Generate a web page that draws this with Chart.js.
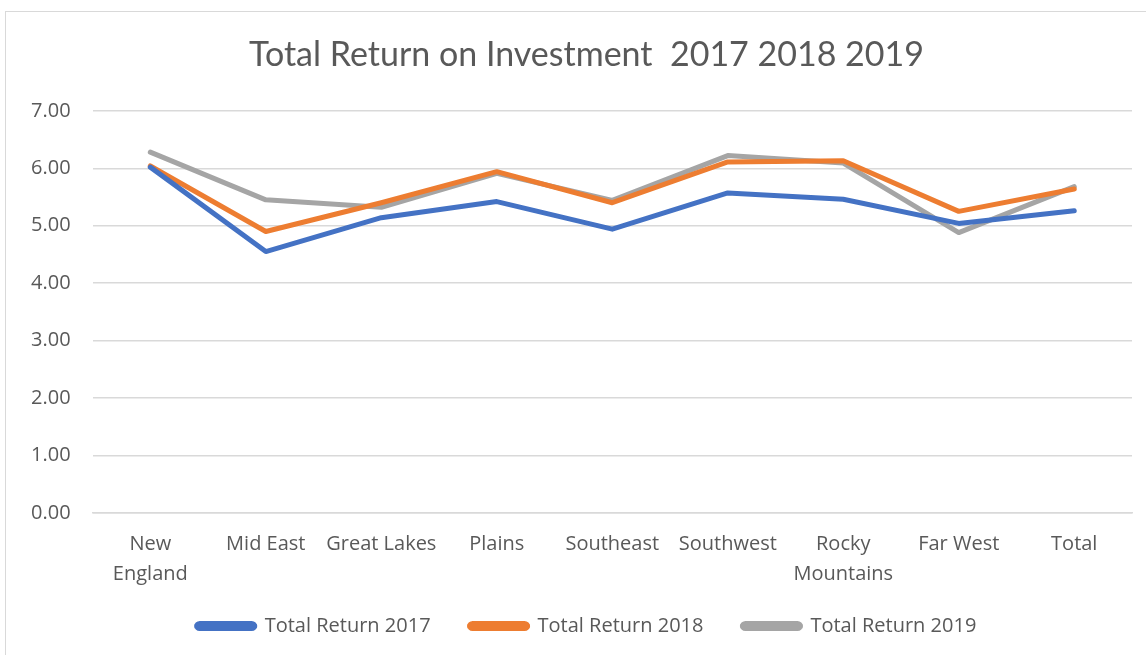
<!DOCTYPE html>
<html>
<head>
<meta charset="utf-8">
<script src="https://cdn.jsdelivr.net/npm/chart.js@4/dist/chart.umd.min.js"></script>
<style>
  body { margin: 0; background: #fff; }
  #box { position: absolute; left: 5px; top: 11px; width: 1150px; height: 660px; border: 1px solid #d9d9d9; box-sizing: border-box; }
  #wrap { position: absolute; left: 0; top: 0; width: 1141px; height: 644px; }
</style>
</head>
<body>
<div id="box"><div id="wrap"><canvas id="myChart"></canvas></div></div>
<script>
const regions = [['New', 'England'], 'Mid East', 'Great Lakes', 'Plains', 'Southeast', 'Southwest', ['Rocky', 'Mountains'], 'Far West', 'Total'];
const return2017 = [6.02, 4.55, 5.14, 5.42, 4.94, 5.57, 5.46, 5.04, 5.26];
const return2018 = [6.04, 4.90, 5.40, 5.94, 5.40, 6.11, 6.13, 5.25, 5.64];
const return2019 = [6.28, 5.45, 5.32, 5.91, 5.44, 6.22, 6.09, 4.88, 5.68];

const font = "'Open Sans', sans-serif";

// the original chart is wider than the screenshot, so title and legend sit a bit right of centre
const shiftBoxes = {
  id: 'shiftBoxes',
  afterLayout(chart) {
    [chart.titleBlock, chart.legend].forEach(b => {
      if (b) { b.left += 16; b.right += 16; }
    });
  }
};

new Chart(document.getElementById('myChart'), {
  type: 'line',
  data: {
    labels: regions,
    datasets: [
      { label: 'Total Return 2017', data: return2017, borderColor: '#4472c4', backgroundColor: '#4472c4' },
      { label: 'Total Return 2018', data: return2018, borderColor: '#ed7d31', backgroundColor: '#ed7d31' },
      { label: 'Total Return 2019', data: return2019, borderColor: '#a5a5a5', backgroundColor: '#a5a5a5' }
    ]
  },
  plugins: [shiftBoxes],
  options: {
    responsive: true,
    maintainAspectRatio: false,
    animation: false,
    elements: {
      line: { borderWidth: 5, tension: 0, borderCapStyle: 'round', borderJoinStyle: 'round' },
      point: { radius: 0, hoverRadius: 0 }
    },
    layout: { padding: { left: 3, right: 15, top: 23, bottom: 10 } },
    plugins: {
      title: {
        display: true,
        text: 'Total Return on Investment  2017 2018 2019',
        color: '#595959',
        font: { family: 'Lato, sans-serif', size: 34, weight: 'normal' },
        padding: { top: 0, bottom: 35 }
      },
      legend: {
        position: 'bottom',
        labels: {
          color: '#595959',
          font: { family: font, size: 20 },
          boxWidth: 58,
          boxHeight: 5,
          padding: 19,
          useBorderRadius: true,
          borderRadius: 3,
          generateLabels: chart => {
            const items = Chart.defaults.plugins.legend.labels.generateLabels(chart);
            items.forEach((it, i) => { if (i < items.length - 1) it.text += '\u2002\u2002'; });
            return items;
          }
        }
      },
      tooltip: { enabled: false }
    },
    scales: {
      x: {
        offset: true,
        grid: { display: false },
        border: { color: '#d9d9d9', width: 1.5 },
        ticks: {
          color: '#595959',
          font: { family: font, size: 20, lineHeight: 1.5 },
          maxRotation: 0,
          autoSkip: false,
          padding: 8
        }
      },
      y: {
        min: 0,
        max: 7,
        border: { display: false },
        grid: { color: '#d9d9d9', lineWidth: 1.5, drawTicks: false },
        ticks: {
          stepSize: 1,
          color: '#595959',
          font: { family: font, size: 20 },
          padding: 22,
          callback: v => v.toFixed(2)
        }
      }
    }
  }
});
</script>
</body>
</html>
